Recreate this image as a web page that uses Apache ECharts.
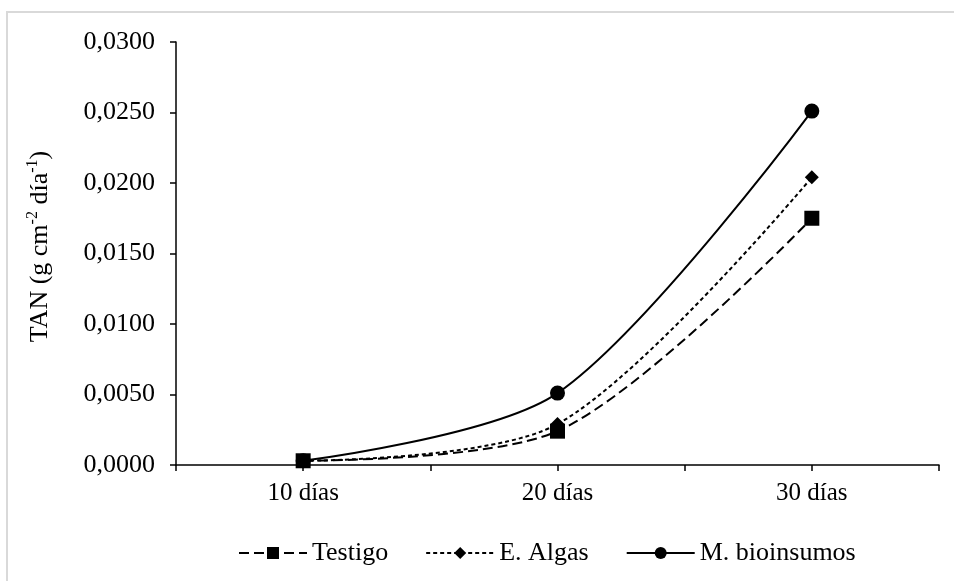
<!DOCTYPE html>
<html>
<head>
<meta charset="utf-8">
<script src="https://cdn.jsdelivr.net/npm/echarts@6/dist/echarts.min.js"></script>
<style>html,body{margin:0;padding:0;background:#fff;}#c{width:954px;height:581px;}</style>
</head>
<body>
<div id="c"></div>
<script>
var categories = ['10 días', '20 días', '30 días'];
var testigo = [0.0003, 0.0024, 0.0175];
var algas = [0.0003, 0.0029, 0.0204];
var bioinsumos = [0.0003, 0.0051, 0.0251];
var seriesNames = ['Testigo', 'E. Algas', 'M. bioinsumos'];
var yMin = 0, yMax = 0.03, yStep = 0.005;

var FONT = '"Liberation Serif", "Times New Roman", serif';
var chart = echarts.init(document.getElementById('c'));
chart.setOption({
  animation: false,
  backgroundColor: '#fff',
  textStyle: { fontFamily: FONT, color: '#000' },
  graphic: [{
    type: 'rect', silent: true, z: -10,
    shape: { x: 7, y: 12, width: 2000, height: 2000 },
    style: { fill: null, stroke: '#d9d9d9', lineWidth: 2 }
  }],
  grid: { left: 176, right: 15, top: 42, bottom: 116, containLabel: false },
  legend: {
    bottom: 10, left: 233,
    data: seriesNames,
    itemWidth: 68, itemHeight: 15, itemGap: 37,
    textStyle: { fontFamily: FONT, fontSize: 26, color: '#000' }
  },
  xAxis: [{
    type: 'category', data: categories, boundaryGap: true,
    axisLine: { lineStyle: { color: '#000', width: 1.5 } },
    axisTick: { show: true, inside: false, length: 6, lineStyle: { color: '#000', width: 1.5 } },
    axisLabel: { fontFamily: FONT, fontSize: 25, color: '#000', margin: 16 },
    splitLine: { show: false }
  }, {
    type: 'category', data: categories, boundaryGap: true, position: 'bottom',
    axisLine: { show: false },
    axisTick: { show: true, alignWithLabel: true, length: 6, lineStyle: { color: '#000', width: 1.5 } },
    axisLabel: { show: false },
    splitLine: { show: false }
  }],
  yAxis: {
    type: 'value', min: yMin, max: yMax, interval: yStep,
    name: '{m|TAN (g cm}{s|-2}{m| día}{s|-1}{m|)}',
    nameLocation: 'middle', nameRotate: 90, nameGap: 121,
    nameTextStyle: {
      fontFamily: FONT, color: '#000', padding: [0, 0, 0, 14],
      rich: {
        m: { fontFamily: FONT, fontSize: 26, lineHeight: 30, color: '#000' },
        s: { fontFamily: FONT, fontSize: 16, lineHeight: 30, verticalAlign: 'top', color: '#000' }
      }
    },
    axisLine: { show: true, lineStyle: { color: '#000', width: 1.5 } },
    axisTick: { show: true, inside: false, length: 6, lineStyle: { color: '#000', width: 1.5 } },
    axisLabel: {
      fontFamily: FONT, fontSize: 26, color: '#000', margin: 21,
      formatter: function (v) { return v.toFixed(4).replace('.', ','); }
    },
    splitLine: { show: false }
  },
  series: [{
    name: seriesNames[0], type: 'line', data: testigo, smooth: 0.3, z: 5,
    symbol: 'rect', symbolSize: 15,
    lineStyle: { color: '#000', width: 2, type: [10, 5] },
    itemStyle: { color: '#000' }
  }, {
    name: seriesNames[1], type: 'line', data: algas, smooth: 0.3, z: 4,
    symbol: 'diamond', symbolSize: 14,
    lineStyle: { color: '#000', width: 2, type: [4, 3] },
    itemStyle: { color: '#000' }
  }, {
    name: seriesNames[2], type: 'line', data: bioinsumos, smooth: 0.3, z: 3,
    symbol: 'circle', symbolSize: 15,
    lineStyle: { color: '#000', width: 2, type: 'solid' },
    itemStyle: { color: '#000' }
  }]
});
</script>
</body>
</html>
